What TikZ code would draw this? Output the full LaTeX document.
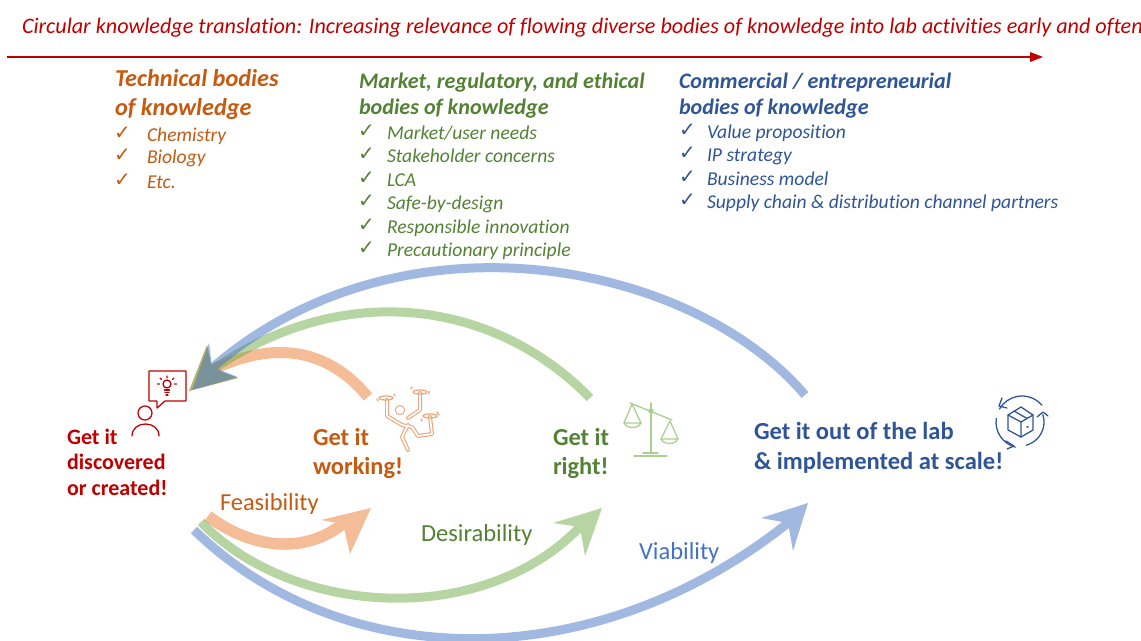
\documentclass[tikz,border=0pt]{standalone}
\usepackage{fontspec}
\setmainfont[Ligatures=NoCommon]{Carlito}
\newfontfamily\chk{DejaVu Sans}
\definecolor{cred}{HTML}{C00000}
\definecolor{corange}{HTML}{C55A11}
\definecolor{cgreen}{HTML}{548235}
\definecolor{cblue}{HTML}{2F5597}
\definecolor{cvia}{HTML}{4472C4}
\definecolor{aorange}{HTML}{ED7D31}
\definecolor{agreen}{HTML}{70AD47}
\definecolor{ablue}{HTML}{4472C4}
\definecolor{iorange}{HTML}{EDA77C}
\definecolor{igreen}{HTML}{A9D18E}
\newcommand{\fs}[1]{\fontsize{#1}{#1}\selectfont}
\newcommand{\limbs}{(387,400) -- (387,416) -- (402,425) -- (412,427) -- (418,436) -- (432,434) -- (430,417) (408,418) -- (420,410) -- (420,393) (408,425) -- (402,437) -- (408,450)}
\tikzset{
 x=0.75pt,y=-0.75pt,
 txt/.style={anchor=base west,inner sep=0pt,outer sep=0pt,yshift=-0.75pt},
 title/.style={txt,cred,font=\fs{16.6}\itshape},
 headO/.style={txt,corange,font=\fs{18.2}\bfseries\itshape},
 headG/.style={txt,cgreen,font=\fs{16.6}\bfseries\itshape},
 headB/.style={txt,cblue,font=\fs{16.6}\bfseries\itshape},
 itemO/.style={txt,corange,font=\fs{14.7}\itshape},
 itemG/.style={txt,cgreen,font=\fs{14.7}\itshape},
 itemB/.style={txt,cblue,font=\fs{14.7}\itshape},
 chkO/.style={txt,corange,font=\fs{15}\chk},
 chkG/.style={txt,cgreen,font=\fs{15}\chk},
 chkB/.style={txt,cblue,font=\fs{15}\chk},
 goalR/.style={txt,cred,font=\fs{16.5}\bfseries},
 goalO/.style={txt,corange,font=\fs{18.3}\bfseries},
 goalG/.style={txt,cgreen,font=\fs{18.3}\bfseries},
 goalB/.style={txt,cblue,font=\fs{18.4}\bfseries},
 dimO/.style={txt,corange,font=\fs{18.3}},
 dimG/.style={txt,cgreen,font=\fs{18.4}},
 dimB/.style={txt,cvia,font=\fs{18.4}},
 band/.style={line width=#1*0.75pt,line join=round},
 icon/.style={line width=0.95pt,line cap=round,line join=round},
}
\begin{document}
\begin{tikzpicture}
\useasboundingbox (0,0) rectangle (1141,641);
\fill[white] (0,0) rectangle (1141,641);
% title
\node[title] (title) at (22,33) {Circular knowledge translation: Increasing relevance of flowing diverse bodies of knowledge into lab activities early and often};
\coordinate (ruleA) at (7,57);
\coordinate (ruleB) at (1043,57);
\draw[cred,line width=1.6pt] (ruleA) -- (1033,57);
\fill[cred] (ruleB) -- (1030,52) -- (1030,62) -- cycle;
% technical
\node[headO] (t1) at (115,86) {Technical bodies};
\node[headO] (t2) at (115,115) {of knowledge};
\foreach \n/\y/\s in {a/141/Chemistry,b/163/Biology,c/188/Etc.}{
 \node[chkO] (tc\n) at (114,\y-2) {✓};
 \node[itemO] (ti\n) at (147,\y) {\s};
}
% market
\node[headG] (m1) at (359,88) {Market, regulatory, and ethical};
\node[headG] (m2) at (359,114) {bodies of knowledge};
\foreach \n/\y/\s in {a/139/{Market/user needs},b/162/Stakeholder concerns,c/186/LCA,d/209/Safe-by-design,e/233/Responsible innovation,f/256/Precautionary principle}{
 \node[chkG] (mc\n) at (358,\y-2) {✓};
 \node[itemG] (mi\n) at (387,\y) {\s};
}
% commercial
\node[headB] (c1) at (679,88) {Commercial / entrepreneurial};
\node[headB] (c2) at (679,114) {bodies of knowledge};
\foreach \n/\y/\s in {a/138/Value proposition,b/161/IP strategy,c/185/Business model,d/208/Supply chain \& distribution channel partners}{
 \node[chkB] (cc\n) at (679,\y-2) {✓};
 \node[itemB] (ci\n) at (707,\y) {\s};
}
% upper return arrows
\begin{scope}[transparency group,opacity=.5]
 \draw[aorange,band=11] (368,397) .. controls (335,357) and (285,335) .. (212,370);
 \fill[aorange] (189,391) -- (207,345) -- (212,368) -- (238,378) -- cycle;
\end{scope}
\begin{scope}[transparency group,opacity=.5]
 \draw[agreen,band=9] (590,398) .. controls (500,305) and (350,275) .. (212,370);
 \fill[agreen] (189,391) -- (207,345) -- (212,368) -- (238,378) -- cycle;
\end{scope}
\begin{scope}[transparency group,opacity=.5]
 \draw[ablue,band=9] (805,395) .. controls (690,260) and (400,205) .. (212,368);
 \fill[ablue] (192,390) -- (209,343) -- (212,367) -- (238,377) -- cycle;
\end{scope}
% lower forward arrows
\begin{scope}[transparency group,opacity=.5]
 \draw[aorange,band=11.5] (208,516) .. controls (250,548) and (305,556) .. (345,522);
 \fill[aorange] (371,508) -- (321,520) -- (343,524) -- (350,554) -- cycle;
\end{scope}
\begin{scope}[transparency group,opacity=.5]
 \draw[agreen,band=9] (201,522) .. controls (290,615) and (480,630) .. (580,527);
 \fill[agreen] (602,508) -- (553,523) -- (580,527) -- (585,556) -- cycle;
\end{scope}
\begin{scope}[transparency group,opacity=.5]
 \draw[ablue,band=9] (194,530) .. controls (340,672) and (590,680) .. (788,523);
 \fill[ablue] (808,503) -- (761,518) -- (788,523) -- (793,551) -- cycle;
\end{scope}
% goals
\node[goalR] (g1) at (67,443) {Get it};
\node[goalR] (g2) at (67,468) {discovered};
\node[goalR] (g3) at (67,494) {or created!};
\node[goalO] (w1) at (313,444) {Get it};
\node[goalO] (w2) at (313,473) {working!};
\node[goalG] (r1) at (553,444) {Get it};
\node[goalG] (r2) at (553,473) {right!};
\node[goalB] (l1) at (754,438) {Get it out of the lab};
\node[goalB] (l2) at (754,468) {\& implemented at scale!};
\node[dimO] (d1) at (220,509) {Feasibility};
\node[dimG] (d2) at (421,540) {Desirability};
\node[dimB] (d3) at (639,558) {Viability};
% person with idea
\begin{scope}[cred,icon]
 \draw (157,401) -- (149,401) -- (149,371) -- (186,371) -- (186,401) -- (165,401) -- (157,408) -- cycle;
 \draw (145,413) circle[radius=7];
 \draw (132,436) .. controls (132,420) and (159,420) .. (159,436);
 \draw (167,384) circle[radius=4];
 \draw (164.5,390) -- (169.5,390) (165,392.5) -- (169,392.5) (166,395) -- (168,395);
 \draw (167,376) -- (167,378) (160,378) -- (161.5,379.5) (174,378) -- (172.5,379.5) (157.5,384) -- (159.5,384) (176.5,384) -- (174.5,384);
\end{scope}
% drone figure
\begin{scope}[icon]
 \draw[iorange,line width=3pt] \limbs;
 \draw[white,line width=1.3pt] \limbs;
 \draw[iorange] (400,410) circle[radius=4.5];
 \fill[white] (400,410) circle[radius=4];
 \draw[iorange] (386,398) ellipse[x radius=7,y radius=2];
 \draw[iorange] (420,392) ellipse[x radius=7,y radius=2];
 \draw[iorange] (430,416) ellipse[x radius=7,y radius=2];
 \draw[iorange] (377,399) -- (378,401) (395,396) -- (394,394) (411,389) -- (412,387) (429,391) -- (429,394) (437,412) -- (439,415) (421,419) -- (422,421);
\end{scope}
% scales
\begin{scope}[igreen,icon]
 \draw (651,403) -- (651,454);
 \draw (630,403) -- (672,420);
 \draw (651,411) circle[radius=2];
 \draw (624,423) -- (632,404) -- (641,423);
 \draw (624,423) -- (641,423) .. controls (638,429) and (627,429) .. (624,423);
 \draw (661,439) -- (670,421) -- (678,439);
 \draw (661,439) -- (678,439) .. controls (675,445) and (664,445) .. (661,439);
 \draw (634,456) -- (667,456) (643,453) -- (658,453);
\end{scope}
% box with cycle
\begin{scope}[cblue,icon]
 \draw (1021,407) -- (1033,415) -- (1033,430) -- (1021,437) -- (1008,430) -- (1008,415) -- cycle;
 \draw (1008,415) -- (1021,422) -- (1033,415) (1021,422) -- (1021,437);
 \draw (1014,411) -- (1027,418.5);
 \draw (1027,427) -- (1028,427);
 \draw (1022,422) ++(-40:26) arc[start angle=-40,end angle=-150,radius=26];
 \draw (1022,422) ++(-172:26) arc[start angle=-172,end angle=-255,radius=26];
 \draw (1020,422) ++(75:24) arc[start angle=75,end angle=-18,radius=24];
 \draw (1002,398) -- (999,406) -- (1007,408);
 \draw (1006,441) -- (1014,446) -- (1007,449);
 \draw (1037,417) -- (1043,412) -- (1048,416);
\end{scope}
\end{tikzpicture}
\end{document}
